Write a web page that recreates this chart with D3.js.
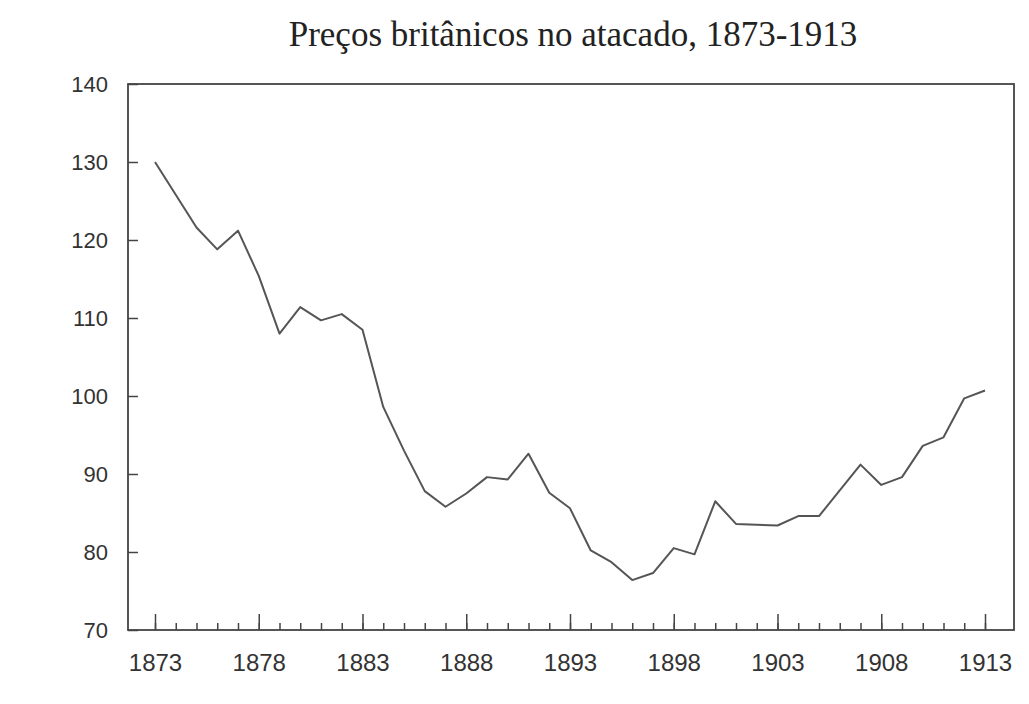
<!DOCTYPE html>
<html>
<head>
<meta charset="utf-8">
<style>
body { margin: 0; background: #fff; }
.axis path { display: none; }
.axis line { stroke: #444; stroke-width: 1.5; }
.axis text { font-family: "Liberation Sans", Arial, sans-serif; fill: #333; }
</style>
</head>
<body>
<svg width="1029" height="704"></svg>
<script src="https://cdn.jsdelivr.net/npm/d3@7"></script>
<script>
// wholesale price index, one value per year
var years = d3.range(1873, 1914);
var prices = [130, 125.8, 121.6, 118.8, 121.2, 115.4, 108.0, 111.4, 109.7, 110.5,
              108.5, 98.6, 93.0, 87.8, 85.8, 87.5, 89.6, 89.3, 92.6, 87.6,
              85.6, 80.2, 78.7, 76.4, 77.3, 80.5, 79.7, 86.5, 83.6, 83.5,
              83.4, 84.6, 84.6, 87.9, 91.2, 88.6, 89.6, 93.6, 94.7, 99.7,
              100.7];
var yTicks = [70, 80, 90, 100, 110, 120, 130, 140];
var labelYears = [1873, 1878, 1883, 1888, 1893, 1898, 1903, 1908, 1913];
var title = "Preços britânicos no atacado, 1873-1913";

var data = years.map(function(d, i) { return {year: d, value: prices[i]}; });

var svg = d3.select("svg"),
    plotLeft = 128, plotRight = 1014, plotTop = 84, plotBottom = 630;

var x = d3.scaleLinear().domain([1873, 1913]).range([155, 985]);
var y = d3.scaleLinear().domain([70, 140]).range([plotBottom, plotTop]);

svg.append("text")
    .attr("x", 573)
    .attr("y", 46)
    .attr("text-anchor", "middle")
    .style("font-family", "'Liberation Serif', 'Times New Roman', serif")
    .style("font-size", "35px")
    .style("fill", "#222")
    .text(title);

// frame
svg.append("rect")
    .attr("x", plotLeft)
    .attr("y", plotTop)
    .attr("width", plotRight - plotLeft)
    .attr("height", plotBottom - plotTop)
    .attr("fill", "none")
    .attr("stroke", "#444")
    .attr("stroke-width", 1.8);

// y axis, ticks pointing inward
svg.append("g")
    .attr("class", "axis axis--y")
    .attr("transform", "translate(" + plotLeft + ",0)")
    .call(d3.axisLeft(y).tickValues(yTicks).tickSize(-10).tickPadding(20))
    .selectAll("text")
      .style("font-size", "22px");

// minor year ticks
svg.append("g")
    .attr("class", "axis axis--x")
    .attr("transform", "translate(0," + plotBottom + ")")
    .call(d3.axisBottom(x).tickValues(years).tickSize(-7).tickFormat(""));

// major year ticks with labels
svg.append("g")
    .attr("class", "axis axis--x")
    .attr("transform", "translate(0," + plotBottom + ")")
    .call(d3.axisBottom(x).tickValues(labelYears).tickSize(-16).tickPadding(24).tickFormat(d3.format("d")))
    .selectAll("text")
      .style("font-size", "24px");

var line = d3.line()
    .x(function(d) { return x(d.year); })
    .y(function(d) { return y(d.value); });

svg.append("path")
    .datum(data)
    .attr("fill", "none")
    .attr("stroke", "#555")
    .attr("stroke-width", 2)
    .attr("stroke-linejoin", "round")
    .attr("d", line);
</script>
</body>
</html>
